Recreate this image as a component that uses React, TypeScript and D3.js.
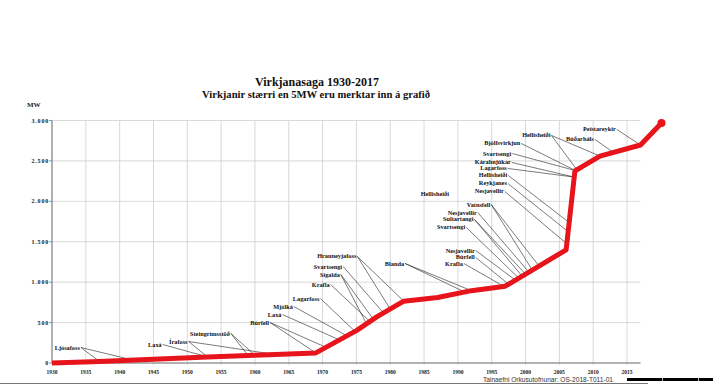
import React, { useEffect, useRef } from 'react';
import * as d3 from 'd3';

// Cumulative installed capacity (MW)
const years = [1930, 1937, 1945, 1953, 1960, 1969, 1975, 1978, 1982, 1987, 1992, 1997, 2001, 2006, 2007.3, 2008, 2011, 2017, 2020.1];
const capacityMW = [0, 20, 45, 75, 95, 125, 400, 570, 765, 810, 895, 950, 1150, 1400, 2375, 2410, 2560, 2697, 2970];

const xTicks = d3.range(1930, 2016, 5);
const yTicks = [0, 500, 1000, 1500, 2000, 2500, 3000];
const yTickLabels = ['0', '500', '1.000', '1.500', '2.000', '2.500', '3.000'];

// Plant annotations: name, label anchor (year, MW), target years on the curve
const plantNames = [
  'Ljósafoss', 'Laxá', 'Írafoss', 'Steingrímsstöð', 'Búrfell', 'Laxá', 'Mjólká', 'Lagarfoss',
  'Krafla', 'Sigalda', 'Svartsengi', 'Hrauneyjafoss', 'Blanda', 'Hellisheiði', 'Vatnsfell',
  'Nesjavellir', 'Sultartangi', 'Svartsengi', 'Nesjavellir', 'Búrfell', 'Krafla', 'Reykjanes',
  'Nesjavellir', 'Hellisheiði', 'Lagarfoss', 'Kárahnjúkar', 'Svartsengi', 'Bjólfsvirkjun',
  'Hellisheiði', 'Búðarháls', 'Þeistareykir',
];
const plantLabelYear = [
  1930.4, 1944.2, 1947.3, 1950.4, 1959.3, 1961.9, 1962.7, 1965.6,
  1968.4, 1969.6, 1968.7, 1969.2, 1979.2, 1984.5, 1991.3,
  1988.5, 1987.8, 1986.9, 1988.2, 1989.7, 1988.1, 1993.1,
  1992.5, 1993.1, 1993.3, 1992.5, 1993.7, 1993.9,
  1999.5, 2006.0, 2008.5,
];
const plantLabelMW = [
  167, 204, 241, 340, 476, 575, 674, 773,
  946, 1070, 1169, 1293, 1206, 2060, 1936,
  1837, 1751, 1652, 1367, 1281, 1206, 2196,
  2097, 2296, 2382, 2456, 2567, 2691,
  2790, 2741, 2864,
];
const plantTargetYears: number[][] = [
  [1937, 1942], [1953], [1953, 1963], [1959, 1960], [1969, 1970.5], [1972.5], [1973.6], [1974.8],
  [1977], [1976.5, 1977.5], [1979], [1980, 1982], [1991, 1992], [], [2001, 2002],
  [2000.5], [1999.5, 2000], [1999], [1998.5], [1997.5], [1996.8], [2006.3],
  [2006.1], [2006.45], [2007.2], [2007.2], [2007.4], [2007.4],
  [2007.6, 2011], [2013], [2017],
];

const W = 713;
const H = 387;

export default function App() {
  const ref = useRef<SVGSVGElement>(null);

  useEffect(() => {
    const svg = d3.select(ref.current);
    svg.selectAll('*').remove();

    const x = d3.scaleLinear().domain([1930, 2015]).range([52, 627]);
    const y = d3.scaleLinear().domain([0, 3000]).range([363, 120.5]);
    const xEnd = x(2017);

    const capAt = (yr: number) => {
      const i = Math.max(1, Math.min(years.length - 1, d3.bisectLeft(years, yr)));
      const x0 = years[i - 1], x1 = years[i];
      const t = (yr - x0) / (x1 - x0);
      return capacityMW[i - 1] + t * (capacityMW[i] - capacityMW[i - 1]);
    };

    svg.append('rect').attr('width', W).attr('height', H).attr('fill', '#fff');

    // Title
    svg.append('text').attr('x', 317).attr('y', 86).attr('text-anchor', 'middle')
      .attr('font-family', '"Liberation Serif", "Times New Roman", serif').attr('font-weight', 'bold')
      .attr('font-size', 12).attr('fill', '#111').text('Virkjanasaga 1930-2017');
    svg.append('text').attr('x', 316).attr('y', 98).attr('text-anchor', 'middle')
      .attr('font-family', '"Liberation Serif", "Times New Roman", serif').attr('font-weight', 'bold')
      .attr('font-size', 10.6).attr('fill', '#111').text('Virkjanir stærri en 5MW eru merktar inn á grafið');

    // Grid
    const g = svg.append('g');
    g.selectAll('line.vg').data(xTicks).join('line')
      .attr('x1', d => x(d)).attr('x2', d => x(d))
      .attr('y1', y(3000)).attr('y2', y(0) + 2)
      .attr('stroke', '#cfcfcf').attr('stroke-width', 0.8);
    g.selectAll('line.hg').data(yTicks).join('line')
      .attr('x1', x(1930)).attr('x2', xEnd)
      .attr('y1', d => y(d)).attr('y2', d => y(d))
      .attr('stroke', '#cfcfcf').attr('stroke-width', 0.8);

    // Axes
    svg.append('line').attr('x1', x(1930)).attr('x2', x(1930)).attr('y1', y(3000)).attr('y2', y(0))
      .attr('stroke', '#777').attr('stroke-width', 1);
    svg.append('line').attr('x1', x(1930)).attr('x2', xEnd).attr('y1', y(0)).attr('y2', y(0))
      .attr('stroke', '#777').attr('stroke-width', 1);
    svg.selectAll('line.yt').data(yTicks).join('line')
      .attr('x1', x(1930) - 3).attr('x2', x(1930)).attr('y1', d => y(d)).attr('y2', d => y(d))
      .attr('stroke', '#777').attr('stroke-width', 0.8);

    const serif = '"Liberation Serif", "Times New Roman", serif';
    svg.selectAll('text.yl').data(yTicks).join('text')
      .attr('x', x(1930) - 3).attr('y', d => y(d) + 2)
      .attr('text-anchor', 'end').attr('font-family', serif).attr('font-weight', 'bold')
      .attr('font-size', 6).attr('letter-spacing', 0.8).attr('fill', '#222')
      .text((d, i) => yTickLabels[i]);
    svg.selectAll('text.xl').data(xTicks).join('text')
      .attr('x', d => x(d)).attr('y', 374)
      .attr('text-anchor', 'middle').attr('font-family', serif).attr('font-weight', 'bold')
      .attr('font-size', 5.5).attr('fill', '#222')
      .text(d => String(d));
    svg.append('text').attr('x', 27).attr('y', 107).attr('font-family', serif).attr('font-weight', 'bold')
      .attr('font-size', 7).attr('fill', '#222').text('MW');

    // Annotations
    const ag = svg.append('g');
    plantNames.forEach((name, i) => {
      const lx = x(plantLabelYear[i]);
      const ly = y(plantLabelMW[i]);
      const t = ag.append('text').attr('x', lx).attr('y', ly)
        .attr('font-family', serif).attr('font-weight', 'bold').attr('font-size', 6.3)
        .attr('fill', '#111').text(name);
      const w = (t.node() as SVGTextElement).getComputedTextLength();
      const sx = lx + w + 1;
      const sy = ly - 2;
      plantTargetYears[i].forEach(ty => {
        ag.append('line').attr('x1', sx).attr('y1', sy)
          .attr('x2', x(ty)).attr('y2', y(capAt(ty)))
          .attr('stroke', '#222').attr('stroke-width', 0.6);
      });
    });

    // Red capacity line
    const line = d3.line<number>().x((d, i) => x(years[i])).y(d => y(d));
    svg.append('path').attr('d', line(capacityMW) as string)
      .attr('fill', 'none').attr('stroke', '#e8141b').attr('stroke-width', 5)
      .attr('stroke-linejoin', 'round');
    svg.append('circle').attr('cx', x(years[years.length - 1])).attr('cy', y(capacityMW[capacityMW.length - 1]))
      .attr('r', 4).attr('fill', '#e8141b');

    // Footer
    svg.append('text').attr('x', 483).attr('y', 382)
      .attr('font-family', '"Liberation Sans", Arial, sans-serif').attr('font-size', 6.6)
      .attr('fill', '#333').text('Talnaefni Orkusutofnunar: OS-2018-T011-01');
    svg.append('line').attr('x1', 0).attr('x2', 648).attr('y1', 383.5).attr('y2', 383.5)
      .attr('stroke', '#777').attr('stroke-width', 1);
    svg.append('rect').attr('x', 627).attr('y', 378).attr('width', W - 627).attr('height', 3).attr('fill', '#000');
    [662, 698].forEach(gx => {
      svg.append('rect').attr('x', gx).attr('y', 378).attr('width', 1).attr('height', 3).attr('fill', '#bbb');
    });
  }, []);

  return (
    <svg ref={ref} width={W} height={H}
      style={{ position: 'absolute', left: 0, top: 0, display: 'block' }} />
  );
}
